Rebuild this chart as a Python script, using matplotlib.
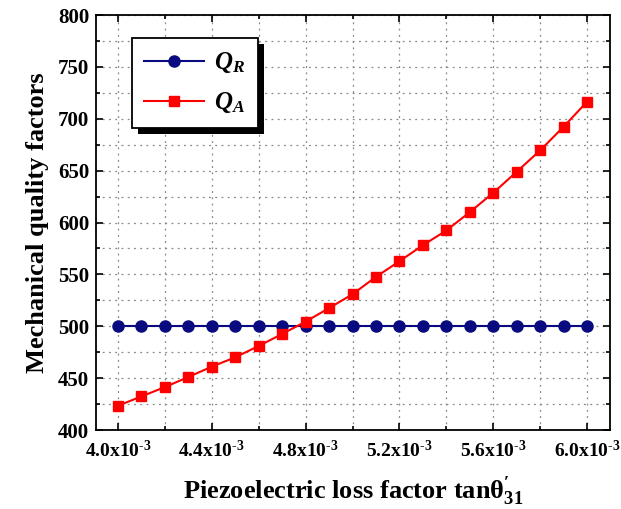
import matplotlib
matplotlib.use("Agg")
import matplotlib.pyplot as plt
from matplotlib.patches import Rectangle
from matplotlib.ticker import MultipleLocator, FuncFormatter

plt.rcParams['font.family'] = ['Liberation Serif', 'DejaVu Serif']
plt.rcParams['font.weight'] = 'bold'
plt.rcParams['mathtext.fontset'] = 'custom'
plt.rcParams['mathtext.rm'] = 'Liberation Serif:bold'
plt.rcParams['mathtext.it'] = 'Liberation Serif:bold:italic'
plt.rcParams['mathtext.bf'] = 'Liberation Serif:bold'

# loss factor tan(theta'_31), in units of 1e-3
loss_factor = [4.0, 4.1, 4.2, 4.3, 4.4, 4.5, 4.6, 4.7, 4.8, 4.9, 5.0,
               5.1, 5.2, 5.3, 5.4, 5.5, 5.6, 5.7, 5.8, 5.9, 6.0]
q_r = [500] * 21
q_a = [423.4, 432.4, 441.4, 451.1, 461.1, 470.1, 481.0, 492.6, 504.5, 517.5, 530.9,
       547.6, 562.7, 578.1, 592.3, 610.0, 628.6, 648.9, 669.5, 692.3, 716.4]

x = [v * 1e-3 for v in loss_factor]

fig = plt.figure(figsize=(6.21, 5.09), dpi=100)
ax = fig.add_axes([0.1546, 0.1552, 0.8277, 0.8153])

ax.plot(x, q_r, '-o', color='#0a0a80', lw=1.5, ms=8, label='$Q_R$', zorder=3)
ax.plot(x, q_a, '-s', color='#ff0000', lw=1.5, ms=7.5, label='$Q_A$', zorder=3)

ax.set_xlim(3.906e-3, 6.098e-3)
ax.set_ylim(400, 800)

ax.xaxis.set_major_locator(MultipleLocator(0.4e-3))
ax.xaxis.set_minor_locator(MultipleLocator(0.2e-3))
ax.yaxis.set_major_locator(MultipleLocator(50))
ax.yaxis.set_minor_locator(MultipleLocator(25))


def sci_fmt(v, pos):
    return r'%.1fx10$^{\text{-3}}$' % (v * 1e3)


ax.xaxis.set_major_formatter(FuncFormatter(sci_fmt))
ax.tick_params(which='both', direction='in', top=True, right=True, width=1.2)
ax.tick_params(which='major', length=5)
ax.tick_params(which='minor', length=3)
ax.tick_params(axis='x', labelsize=14, pad=7)
ax.tick_params(axis='y', labelsize=15, pad=5)
for lbl in ax.get_xticklabels() + ax.get_yticklabels():
    lbl.set_fontweight('bold')

ax.grid(True, which='both', linestyle=(0, (1.5, 3.5)), color='#888888', lw=0.9)
ax.set_axisbelow(True)
for sp in ax.spines.values():
    sp.set_linewidth(1.3)

ax.set_xlabel(r"Piezoelectric loss factor tan$\mathrm{θ}^{\prime}_{31}$", fontsize=19,
              fontweight='bold', labelpad=10)
ax.set_ylabel('Mechanical quality factors', fontsize=19, fontweight='bold', labelpad=6)

leg = ax.legend(loc='upper left', bbox_to_anchor=(0.045, 0.975), fontsize=18,
                fancybox=False, edgecolor='black', framealpha=1,
                handlelength=2.4, handletextpad=0.4, borderpad=0.5,
                labelspacing=0.6)
leg.get_frame().set_linewidth(1.3)
leg.set_zorder(6)

# solid black drop shadow behind the legend box
fig.canvas.draw()
bb = leg.get_window_extent()
shadow = Rectangle((bb.x0 + 6, bb.y0 - 6), bb.width, bb.height, transform=None,
                   facecolor='black', edgecolor='none', zorder=5)
ax.add_artist(shadow)

fig.savefig('out.png', dpi=100)
